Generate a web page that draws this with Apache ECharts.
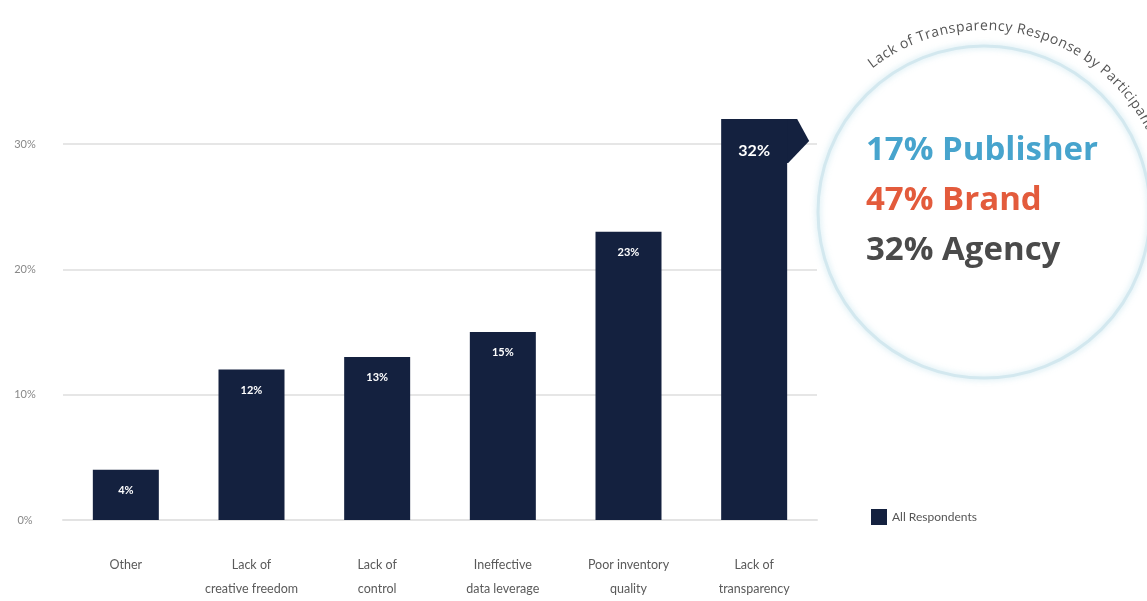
<!DOCTYPE html>
<html>
<head>
<meta charset="utf-8">
<style>
  html, body { margin: 0; padding: 0; background: #fff; }
  #container { width: 1147px; height: 601px; }
</style>
</head>
<body>
<div id="container"></div>
<script src="https://cdn.jsdelivr.net/npm/echarts@6/dist/echarts.min.js"></script>
<script type="text/javascript">

// ---- data ----
var categories = ['Other', 'Lack of\ncreative freedom', 'Lack of\ncontrol', 'Ineffective\ndata leverage', 'Poor inventory\nquality', 'Lack of\ntransparency'];
var values = [4, 12, 13, 15, 23, 32];
var flagged = 'Lack of\ntransparency';   // bar with the arrow + big label
var seriesName = 'All Respondents';

var circleTitle = 'Lack of Transparency Response by Participant';
var participantNames = ['Publisher', 'Brand', 'Agency'];
var participantShares = [17, 47, 32];
var participantColors = ['#47a4cd', '#e35b3c', '#4a4a4a'];

var barColor = '#14213f';
var font = 'Lato, "Open Sans", sans-serif';
var bigFont = '"Open Sans", Lato, sans-serif';

// ---- bar data with per-bar label ----
var barData = [];
for (var i = 0; i < values.length; i++) {
    var item = { value: values[i] };
    if (categories[i] == flagged) {
        item.label = { fontSize: 16, distance: 24 };
    }
    barData.push(item);
}
var flagIdx = categories.indexOf(flagged);

// ---- circle annotation (right side) ----
var cx = 984, cy = 212, r = 166;
var graphics = [];
graphics.push({
    type: 'circle',
    shape: { cx: cx, cy: cy, r: r },
    style: { fill: 'rgba(0,0,0,0)', stroke: '#d3e8ef', lineWidth: 3, shadowBlur: 6, shadowColor: 'rgba(170,215,230,0.7)' },
    z: 1
});

// curved caption along the circle, one char at a time
var capFont = '14px ' + bigFont;
var ctx = document.createElement('canvas').getContext('2d');
ctx.font = capFont;
var R = 179, tracking = 0.4;
var ang = -128 * Math.PI / 180;
for (var k = 0; k < circleTitle.length; k++) {
    var ch = circleTitle.charAt(k);
    var w = ctx.measureText(ch).width + tracking;
    var mid = ang + (w / 2) / R;
    graphics.push({
        type: 'text',
        x: cx + R * Math.cos(mid),
        y: cy + R * Math.sin(mid),
        rotation: -(mid + Math.PI / 2),
        style: { text: ch, x: 0, y: 0, align: 'center', verticalAlign: 'bottom', fill: '#555', font: capFont },
        z: 2
    });
    ang += w / R;
}

// big participant lines
for (var p = 0; p < participantNames.length; p++) {
    graphics.push({
        type: 'text',
        left: 866,
        top: 134 + p * 50,
        style: { text: participantShares[p] + '% ' + participantNames[p], fill: participantColors[p], font: 'bold 33px ' + bigFont },
        z: 2
    });
}

var dom = document.getElementById('container');
var myChart = echarts.init(dom);

var option = {
    animation: false,
    backgroundColor: '#fff',
    textStyle: { fontFamily: font },
    grid: { left: 63, right: 330, top: 144, bottom: 80 },
    legend: {
        data: [seriesName],
        left: 866,
        top: 504,
        itemWidth: 16,
        itemHeight: 16,
        itemGap: 10,
        icon: 'rect',
        textStyle: { color: '#555', fontSize: 12, fontFamily: font }
    },
    xAxis: {
        type: 'category',
        data: categories,
        axisLine: { show: true, lineStyle: { color: '#e3e3e3', width: 2 } },
        axisTick: { show: false },
        axisLabel: { color: '#5a5a5a', fontSize: 12.5, lineHeight: 24, margin: 33, interval: 0 }
    },
    yAxis: {
        type: 'value',
        min: 0,
        max: 30,
        interval: 10,
        axisLine: { show: false },
        axisTick: { show: false },
        axisLabel: { color: '#888', fontSize: 11, align: 'center', margin: 38, formatter: '{value}%' },
        splitLine: { lineStyle: { color: '#e6e6e6', width: 2 } }
    },
    series: [
        {
            name: seriesName,
            type: 'bar',
            data: barData,
            barWidth: 66,
            clip: false,
            itemStyle: { color: barColor },
            label: {
                show: true,
                position: 'insideTop',
                distance: 15,
                color: '#fff',
                fontWeight: 'bold',
                fontSize: 11,
                formatter: '{c}%'
            },
            z: 3
        },
        {
            // arrow tip on the flagged bar
            type: 'custom',
            silent: true,
            clip: false,
            data: [[flagIdx, values[flagIdx]]],
            renderItem: function (params, api) {
                var pt = api.coord([api.value(0), api.value(1)]);
                var xr = pt[0] + 33, yt = pt[1];
                return {
                    type: 'polygon',
                    shape: { points: [[xr - 1, yt], [xr + 10, yt], [xr + 22, yt + 22], [xr + 1, yt + 44], [xr - 1, yt + 44]] },
                    style: { fill: barColor }
                };
            },
            z: 3
        }
    ],
    graphic: graphics
};

myChart.setOption(option);
</script>
</body>
</html>
